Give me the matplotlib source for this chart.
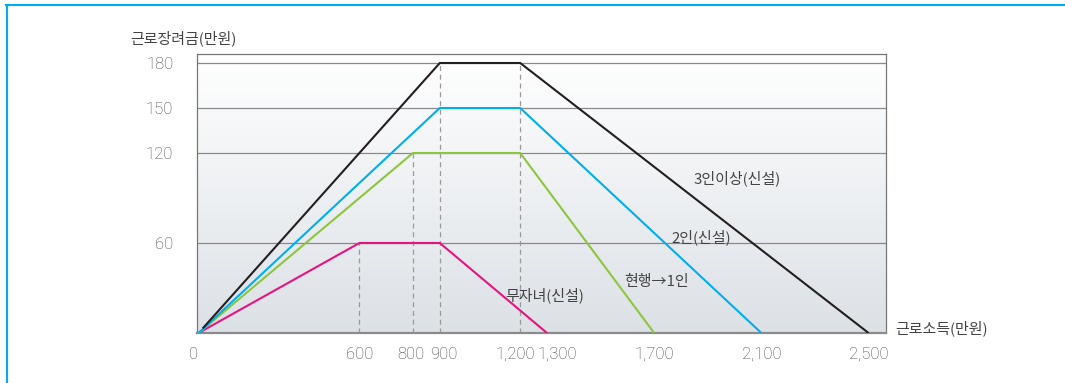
import matplotlib
matplotlib.use("Agg")
import matplotlib.pyplot as plt
import matplotlib.transforms as mtransforms
import numpy as np
from matplotlib.lines import Line2D

plt.rcParams['font.family'] = ['Noto Sans CJK KR', 'DejaVu Sans']

# Income breakpoints (만원) and credit amounts (만원) per household type
no_child_x = [0, 600, 900, 1300]
no_child_y = [0, 60, 60, 0]
one_x = [0, 800, 1200, 1700]
one_y = [0, 120, 120, 0]
two_x = [0, 900, 1200, 2100]
two_y = [0, 150, 150, 0]
three_x = [15, 900, 1200, 2500]
three_y = [3, 180, 180, 0]

x_ticks = [0, 600, 800, 900, 1200, 1300, 1700, 2100, 2500]
x_tick_labels = ["0", "600", "800", "900", "1,200", "1,300", "1,700", "2,100", "2,500"]
y_ticks = [60, 120, 150, 180]

series_labels = ["무자녀(신설)", "현행→1인", "2인(신설)", "3인이상(신설)"]
colors = ["#e5147f", "#8cc63f", "#00aeef", "#231f20"]

TXT = "#444444"
NUM_FONT = ['Roboto', 'Liberation Sans', 'DejaVu Sans']

W, H = 1065, 383
fig = plt.figure(figsize=(W / 100, H / 100), dpi=100)

# axes box in pixel coordinates
left, right, top, bottom = 197, 886, 54, 333
ax = fig.add_axes([left / W, 1 - bottom / H, (right - left) / W, (bottom - top) / H])
ax.set_xlim(-6, 2565)
ax.set_ylim(0, 186)

# vertical gradient background
grad = np.linspace(0, 1, 256).reshape(-1, 1)
top_c = np.array([1.0, 1.0, 1.0])
bot_c = np.array([0xdc, 0xe1, 0xe6]) / 255
img = top_c * (1 - grad)[..., None] + bot_c * grad[..., None]
img = img[::-1]
ax.imshow(img, extent=[-6, 2565, 0, 186], aspect='auto', origin='lower', zorder=0)

for yv in y_ticks:
    ax.axhline(yv, color="#8a8a8a", lw=0.9, zorder=1)

# dashed guides at the breakpoints
guides = [(600, 60), (800, 120), (900, 180), (1200, 180)]
for gx, gy in guides:
    ax.plot([gx, gx], [0, gy], color="#9a9a9a", lw=0.9, ls=(0, (4, 3)), zorder=1)

for xs, ys, c in zip([no_child_x, one_x, two_x, three_x],
                     [no_child_y, one_y, two_y, three_y], colors):
    ax.plot(xs, ys, color=c, lw=1.5, zorder=3, solid_capstyle='butt')

for side in ["left", "top", "right"]:
    ax.spines[side].set_color("#777777")
    ax.spines[side].set_linewidth(0.9)
ax.spines["bottom"].set_color("#8a8a8a")
ax.spines["bottom"].set_linewidth(1.6)

ax.set_xticks(x_ticks)
ax.set_xticklabels(x_tick_labels)
ax.set_yticks(y_ticks)
ax.tick_params(length=0, labelsize=12, labelcolor=TXT)
ax.tick_params(axis='x', pad=10)
ax.tick_params(axis='y', pad=17)
for lbl in ax.get_xticklabels() + ax.get_yticklabels():
    lbl.set_family(NUM_FONT)
    lbl.set_fontweight('light')

# nudge crowded / edge tick labels
shifts = {"0": -5, "800": -2, "900": 4, "1,200": -5, "1,300": 10}
for lbl, t in zip(ax.get_xticklabels(), x_tick_labels):
    if t in shifts:
        lbl.set_transform(lbl.get_transform() +
                          mtransforms.ScaledTranslation(shifts[t] / 100, 0, fig.dpi_scale_trans))

# axis titles
fig.text(130 / W, 1 - 38 / H, "근로장려금(만원)", fontsize=10.8, color=TXT, va='center', ha='left')
fig.text(895 / W, 1 - 328 / H, "근로소득(만원)", fontsize=10.8, color=TXT, va='center', ha='left')

# series labels
label_pos = [(545, 295), (657, 282), (701, 237), (737, 178)]
for (px, py), t in zip(label_pos, series_labels):
    fig.text(px / W, 1 - py / H, t, fontsize=10.8, color=TXT, va='center', ha='center')

# outer frame lines
fig.add_artist(Line2D([6 / W, 1], [1 - 4.5 / H, 1 - 4.5 / H], color="#00aeef", lw=1.5, transform=fig.transFigure))
fig.add_artist(Line2D([6.5 / W, 6.5 / W], [0, 1 - 4.5 / H], color="#00aeef", lw=1.5, transform=fig.transFigure))

fig.savefig("out.png", dpi=100)
